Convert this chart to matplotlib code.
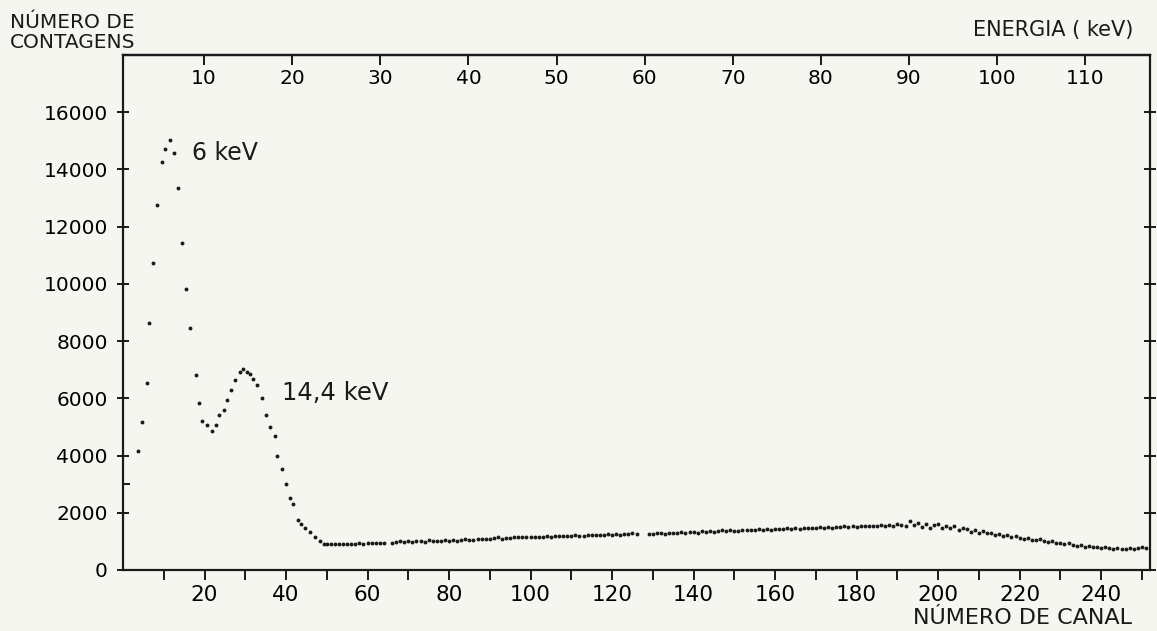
import matplotlib.pyplot as plt
from matplotlib.ticker import FixedLocator, NullFormatter

plt.rcParams["font.family"] = ["DejaVu Sans"]

# ── data ────────────────────────────────────────────────────────────────────
# 6 keV and 14.4 keV region (channel, counts)
PEAK_CH = [3.8, 4.7, 5.8, 6.5, 7.4, 8.3, 9.5, 10.2, 11.5, 12.4, 13.6, 14.6,
           15.4, 16.5, 17.8, 18.7, 19.4, 20.6, 21.8, 22.8, 23.6, 24.8, 25.6,
           26.6, 27.6, 28.7, 29.4, 30.4, 31.1, 31.8, 32.8, 34.0, 35.0, 36.0,
           37.2, 37.7, 38.9, 40.1, 41.0, 41.8, 42.9, 43.7, 44.6, 45.9, 47.1,
           48.3, 49.3]
PEAK_CT = [4160, 5170, 6530, 8630, 10740, 12760, 14270, 14720, 15030, 14570,
           13350, 11420, 9810, 8440, 6820, 5840, 5210, 5060, 4860, 5060, 5410,
           5580, 5930, 6280, 6630, 6910, 7010, 6910, 6840, 6660, 6450, 6020,
           5420, 5000, 4690, 3980, 3520, 2990, 2500, 2290, 1760, 1620, 1480,
           1340, 1160, 1020, 910]

# flat background, channel 50 onwards (gaps at 65 and 127-128)
BASE_CH = (list(range(50, 65)) + list(range(66, 127)) + list(range(129, 252)))
BASE_CT = [
    # 50-64
    900, 910, 920, 905, 900, 915, 920, 910, 930, 925, 940, 930, 945, 950, 940,
    # 66-80
    960, 980, 1000, 970, 1020, 990, 1030, 1000, 990, 1040, 1010, 1000, 1030,
    1050, 1020,
    # 81-100
    1040, 1030, 1060, 1090, 1050, 1040, 1080, 1100, 1070, 1090, 1110, 1140,
    1100, 1120, 1130, 1150, 1140, 1160, 1170, 1150,
    # 101-126
    1160, 1150, 1170, 1180, 1160, 1190, 1200, 1180, 1200, 1190, 1210, 1200,
    1190, 1220, 1230, 1210, 1240, 1220, 1250, 1230, 1260, 1240, 1250, 1270,
    1290, 1260,
    # 129-160
    1250, 1270, 1290, 1280, 1260, 1300, 1310, 1290, 1320, 1300, 1330, 1340,
    1310, 1350, 1330, 1360, 1340, 1370, 1380, 1350, 1390, 1370, 1360, 1400,
    1380, 1410, 1390, 1420, 1400, 1430, 1410, 1420,
    # 161-192
    1440, 1420, 1450, 1430, 1460, 1440, 1470, 1450, 1480, 1460, 1490, 1470,
    1500, 1480, 1510, 1490, 1520, 1500, 1530, 1510, 1520, 1540, 1520, 1550,
    1530, 1560, 1540, 1570, 1550, 1590, 1560, 1550,
    # 193-212
    1720, 1560, 1650, 1500, 1600, 1460, 1580, 1620, 1450, 1520, 1480, 1540,
    1400, 1460, 1420, 1340, 1400, 1300, 1360, 1280,
    # 213-251
    1300, 1240, 1260, 1200, 1220, 1160, 1180, 1120, 1100, 1130, 1060, 1040,
    1070, 1000, 980, 1010, 940, 960, 900, 930, 880, 850, 880, 820, 840, 790,
    810, 760, 800, 770, 740, 780, 750, 720, 770, 740, 760, 790, 770,
]

Y_TICKS = [0, 2000, 4000, 6000, 8000, 10000, 12000, 14000, 16000]
X_LABELS = [20, 40, 60, 80, 100, 120, 140, 160, 180, 200, 220, 240]
X_MINOR = [10, 30, 50, 70, 90, 110, 130, 150, 170, 190, 210, 230, 250]
KEV_TICKS = [10, 20, 30, 40, 50, 60, 70, 80, 90, 100, 110]

# channel -> energy calibration
KEV_PER_CH = 0.4625
KEV_OFFSET = 0.8

def ch2kev(c):
    return c * KEV_PER_CH + KEV_OFFSET

def kev2ch(e):
    return (e - KEV_OFFSET) / KEV_PER_CH

PAPER = "#f6f6f1"
INK = "#1a1a1a"

fig = plt.figure(figsize=(11.57, 6.31), dpi=100, facecolor=PAPER)
ax = fig.add_axes([0.1063, 0.0967, 0.8877, 0.8162], facecolor=PAPER)

ax.plot(PEAK_CH, PEAK_CT, "o", color=INK, ms=2.8, mew=0)
ax.plot(BASE_CH, BASE_CT, "o", color=INK, ms=2.8, mew=0)

ax.set_xlim(0, 252)
ax.set_ylim(0, 18000)

for s in ax.spines.values():
    s.set_linewidth(1.6)
    s.set_color(INK)

# left / right count axis
ax.yaxis.set_major_locator(FixedLocator(Y_TICKS))
ax.yaxis.set_minor_locator(FixedLocator([3000]))
ax.tick_params(axis="y", which="major", direction="inout", length=8,
               width=1.4, color=INK, labelsize=14.5, pad=7, right=True)
ax.tick_params(axis="y", which="minor", direction="in", length=5, width=1.4,
               color=INK)
ax.set_yticklabels([str(v) for v in Y_TICKS])

# channel axis (bottom)
ax.xaxis.set_major_locator(FixedLocator(X_LABELS))
ax.xaxis.set_minor_locator(FixedLocator(X_MINOR))
ax.xaxis.set_minor_formatter(NullFormatter())
ax.tick_params(axis="x", which="both", direction="out", length=7, width=1.4,
               color=INK, labelsize=15.5, pad=4)

# energy axis (top), labels drawn inside the frame
top = ax.secondary_xaxis("top", functions=(ch2kev, kev2ch))
top.xaxis.set_major_locator(FixedLocator(KEV_TICKS))
top.tick_params(direction="in", length=7, width=1.4, color=INK,
                labelsize=14.5, pad=-24)
top.spines["top"].set_linewidth(1.6)

ax.text(17.0, 14560, "6 keV", fontsize=17, va="center", ha="left", color=INK)
ax.text(38.9, 6180, "14,4 keV", fontsize=17.5, va="center", ha="left",
        color=INK)

fig.text(10 / 1157, 1 - 23 / 631, "NÚMERO DE", fontsize=14.5, va="center",
         ha="left", color=INK)
fig.text(10 / 1157, 1 - 42 / 631, "CONTAGENS", fontsize=14.5, va="center",
         ha="left", color=INK)
fig.text(1133 / 1157, 1 - 30 / 631, "ENERGIA ( keV)", fontsize=15,
         va="center", ha="right", color=INK)
fig.text(1132 / 1157, 1 - 618 / 631, "NÚMERO DE CANAL", fontsize=16,
         va="center", ha="right", color=INK)

fig.savefig("out.png", dpi=100, facecolor=PAPER)
